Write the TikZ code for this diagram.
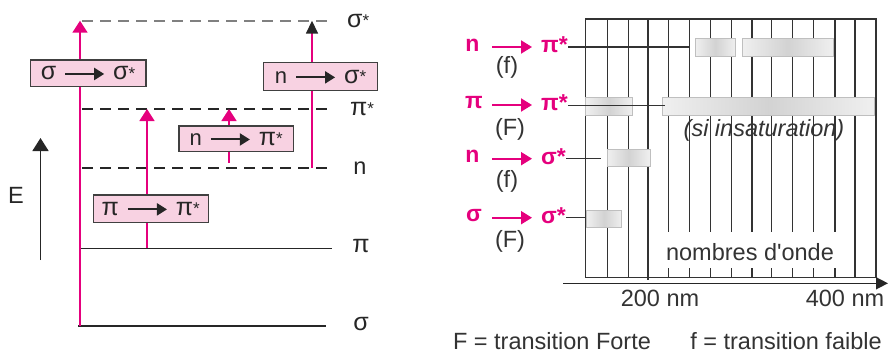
\documentclass[tikz,border=0pt]{standalone}
\usepackage{fontspec}
\setmainfont{Liberation Sans}
\usetikzlibrary{arrows.meta}
\definecolor{mag}{HTML}{E5007D}
\definecolor{boxpink}{HTML}{F8D2E2}
\definecolor{txtgray}{HTML}{333333}
\newcommand\boxarrow{\tikz[x=1pt,y=1pt,baseline=-0.5ex]\draw[line width=2pt,black!85,-{Triangle[length=10pt,width=12pt]}](0,0)--(39,0);}
\newcommand\gk[1]{{\fontsize{25}{26}\selectfont #1}}
\newcommand\st{{\fontsize{17}{18}\selectfont\raisebox{0.5pt}{*}}}
\begin{document}
\begin{tikzpicture}[x=1pt,y=-1pt,
  font=\fontsize{23.5}{25}\selectfont,
  level/.style={line width=1.6pt, black!85},
  dlevel/.style={level, dash pattern=on 11pt off 7pt},
  trbox/.style={draw=black!75, line width=1.3pt, fill=boxpink, inner sep=0pt, text=black!85, font=\fontsize{22}{24}\selectfont},
  marr/.style={mag, line width=1.6pt, -{Triangle[length=12pt,width=15pt]}},
  barr/.style={mag, line width=1.6pt, -{Triangle[length=13pt,width=12pt,color=black!85]}},
  gline/.style={line width=1.4pt, black!80},
  bar/.style={draw=gray!50, line width=0.8pt, left color=gray!12, right color=gray!12, middle color=gray!35},
  lbl/.style={text=mag, font=\fontsize{23}{24}\selectfont\bfseries, inner sep=0pt},
  sub/.style={text=txtgray, inner sep=0pt},
  lvl/.style={text=black!85, inner sep=0pt}
]
\useasboundingbox (0,0) rectangle (888,356);

% ---------------- left: energy diagram ----------------
\coordinate (ssL) at (82,20.7);  \coordinate (ssR) at (330,20.7);
\coordinate (psL) at (82,109);   \coordinate (psR) at (330,109);
\coordinate (nL)  at (82,167.7); \coordinate (nR)  at (330,167.7);
\coordinate (pL)  at (80,248.3); \coordinate (pR)  at (332,248.3);
\coordinate (sL)  at (78,326);   \coordinate (sR)  at (326,326);

\draw[dlevel, gray] (ssL) -- (ssR);
\draw[dlevel] (psL) -- (psR);
\draw[dlevel] (nL) -- (nR);
\draw[level] (pL) -- (pR);
\draw[level] (sL) -- (sR);

\node[lvl, anchor=west] (lss) at (347,21) {\gk{σ}\st};
\node[lvl, anchor=west] (lps) at (350,109) {\gk{π}\st};
\node[lvl] (ln)  at (360,168) {n};
\node[lvl] (lp)  at (361,246) {\gk{π}};
\node[lvl] (ls)  at (361,324) {\gk{σ}};

% energy axis
\coordinate (e0) at (40.5,260); \coordinate (e1) at (40.5,138);
\draw[line width=1.6pt, black!85, -{Triangle[length=13pt,width=16pt]}] (e0) -- (e1);
\node[lvl] (E) at (16,195) {E};

% transitions
\coordinate (t1a) at (80,326);  \coordinate (t1b) at (80,20.7);
\coordinate (t2a) at (147,248.3); \coordinate (t2b) at (147,109);
\coordinate (t3a) at (229,163); \coordinate (t3b) at (229,109);
\coordinate (t4a) at (312,167.7); \coordinate (t4b) at (312,20.7);
\draw[marr] (t1a) -- (t1b);
\draw[marr] (t2a) -- (t2b);
\draw[marr] (t3a) -- (t3b);
\draw[barr] (t4a) -- (t4b);

\node[trbox, minimum width=115.7pt, minimum height=26.7pt] (b1) at (88,73.3) {\gk{σ}\hspace{8pt}\boxarrow\hspace{8pt}\gk{σ}\st};
\node[trbox, minimum width=115pt, minimum height=27.3pt] (b2) at (150.8,208.7) {\gk{π}\hspace{8pt}\boxarrow\hspace{8pt}\gk{π}\st};
\node[trbox, minimum width=114.3pt, minimum height=25.7pt] (b3) at (236.2,138.8) {n\hspace{8pt}\boxarrow\hspace{8pt}\gk{π}\st};
\node[trbox, minimum width=114.4pt, minimum height=28pt] (b4) at (320.5,76.7) {n\hspace{8pt}\boxarrow\hspace{8pt}\gk{σ}\st};

% ---------------- right: spectrum chart ----------------
\node[sub, font=\fontsize{23.5}{25}\selectfont\itshape] (si) at (764,130) {(si insaturation)};

\draw[gline] (585.7,19) rectangle (876,277.3);
\foreach \x in {607.3,628.7,855} \draw[gline] (\x,19) -- (\x,277.3);
\draw[gline] (648,19) -- (648,280);
\foreach \x in {668.7,689.3,710.7,731.3,752,771.7,792.7,813.3,835} {
  \draw[gline] (\x,19) -- (\x,232);
  \draw[gline] (\x,268) -- (\x,277.3);
}

% absorption bars
\draw[bar] (695,38.3) rectangle (735.7,56);
\draw[bar] (742,38.3) rectangle (833,56);
\draw[bar] (585.7,97.7) rectangle (632.7,115);
\draw[bar] (662.3,97.7) rectangle (874.3,115);
\draw[bar] (607.3,149.3) rectangle (650,166.7);
\draw[bar] (586.7,210) rectangle (621.7,227.7);

% axis
\coordinate (ax0) at (563,283.3); \coordinate (ax1) at (888,283.3);
\draw[line width=1.6pt, black!85, -{Triangle[length=12pt,width=12pt]}] (ax0) -- (ax1);
\node[sub] (nm2) at (660,298) {200 nm};
\node[sub] (nm4) at (845,298) {400 nm};
\node[sub] (wn) at (750,252) {nombres d\textquotesingle onde};

% transition labels
\node[lbl] (r1a) at (472.5,45) {n};
\node[lbl, anchor=west] (r1b) at (541,45) {π*};
\node[lbl] (r2a) at (474,103) {π};
\node[lbl, anchor=west] (r2b) at (541,103) {π*};
\node[lbl] (r3a) at (472.5,156.7) {n};
\node[lbl, anchor=west] (r3b) at (541,156.7) {σ*};
\node[lbl] (r4a) at (474,215.7) {σ};
\node[lbl, anchor=west] (r4b) at (541,215.7) {σ*};
\foreach \r/\y in {1/47,2/105,3/158.7,4/217.7}
  \draw[mag, line width=2pt, -{Triangle[length=11pt,width=13pt]}] (492,\y) -- (532,\y);

\node[sub] (f1) at (507,67) {(f)};
\node[sub] (f2) at (510,129) {(F)};
\node[sub] (f3) at (507,181) {(f)};
\node[sub] (f4) at (510,241) {(F)};

\coordinate (c1) at (689.3,47);   \draw[gline] (r1b.east |- c1) -- (c1);
\coordinate (c2) at (665,105.3);  \draw[gline] (r2b.east |- c2) -- (c2);
\coordinate (c3) at (600.7,158.7);\draw[gline] (r3b.east |- c3) -- (c3);
\coordinate (c4) at (585.7,217.7);\draw[gline] (r4b.east |- c4) -- (c4);

% legend
\node[sub] (lgF) at (552,341.5) {F = transition Forte};
\node[sub] (lgf) at (786,341.5) {f = transition faible};
\end{tikzpicture}
\end{document}
